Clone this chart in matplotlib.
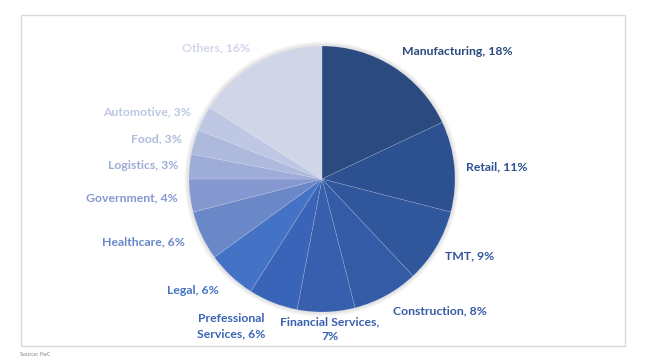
import matplotlib
matplotlib.use("Agg")
import matplotlib.pyplot as plt
from matplotlib.patches import Circle, Rectangle

categories = ["Manufacturing", "Retail", "TMT", "Construction", "Financial Services",
              "Prefessional\nServices", "Legal", "Healthcare", "Government", "Logistics",
              "Food", "Automotive", "Others"]
values = [18, 11, 9, 8, 7, 6, 6, 6, 4, 3, 3, 3, 16]
colors = ["#2a4a80", "#2d5090", "#30579c", "#345ca6", "#375fae", "#3a64b8", "#4472c4",
          "#6a88c8", "#8598d0", "#9eacd8", "#aebadd", "#bec7e3", "#d0d6e8"]
label_texts = ["Manufacturing, 18%", "Retail, 11%", "TMT, 9%", "Construction, 8%",
               "Financial Services,\n7%", "Prefessional\nServices, 6%", "Legal, 6%",
               "Healthcare, 6%", "Government, 4%", "Logistics, 3%", "Food, 3%",
               "Automotive, 3%", "Others, 16%"]
label_pos = [(1.015, 0.955), (1.316, 0.09), (1.113, -0.579), (0.887, -0.992),
             (0.06, -1.128), (-0.684, -1.105), (-0.97, -0.842), (-1.346, -0.474),
             (-1.429, -0.143), (-1.346, 0.098), (-1.248, 0.301), (-1.316, 0.504),
             (-0.797, 0.985)]

W, H = 670, 358
fig = plt.figure(figsize=(W / 100, H / 100), dpi=100)
fig.patch.set_facecolor("white")

# outer frame
fig.patches.append(Rectangle((21 / W, 1 - 346 / H), (625 - 21) / W, (346 - 15) / H,
                             transform=fig.transFigure, fill=False,
                             edgecolor="#d9d9d9", linewidth=1.0))

cx, cy, r = 322, 179, 133
ax = fig.add_axes([(cx - 2 * r) / W, 1 - (cy + 1.3 * r) / H, 4 * r / W, 2.6 * r / H])
ax.set_facecolor("none")

# soft shadow
for i, a in enumerate([0.05, 0.05, 0.06, 0.07]):
    ax.add_patch(Circle((0, 0), 1.035 - i * 0.008, facecolor="#808080", alpha=a,
                        edgecolor="none", zorder=0))

wedges, _ = ax.pie(values, colors=colors, startangle=90, counterclock=False,
                   wedgeprops=dict(edgecolor=(1, 1, 1, 0.2), linewidth=0.5))
for w in wedges:
    w.set_zorder(2)

for txt, (x, y), c in zip(label_texts, label_pos, colors):
    ax.text(x, y, txt, color=c, fontsize=8.8, fontweight="bold", family="Lato",
            ha="center", va="center", linespacing=1.45, zorder=3)

ax.set_xlim(-2, 2)
ax.set_ylim(-1.3, 1.3)
ax.set_aspect("auto")
ax.axis("off")

fig.text(20 / W, 1 - 355 / H, "Source: PwC", fontsize=3.5, color="#7f7f7f",
         ha="left", va="center")

fig.savefig("out.png", dpi=100)
